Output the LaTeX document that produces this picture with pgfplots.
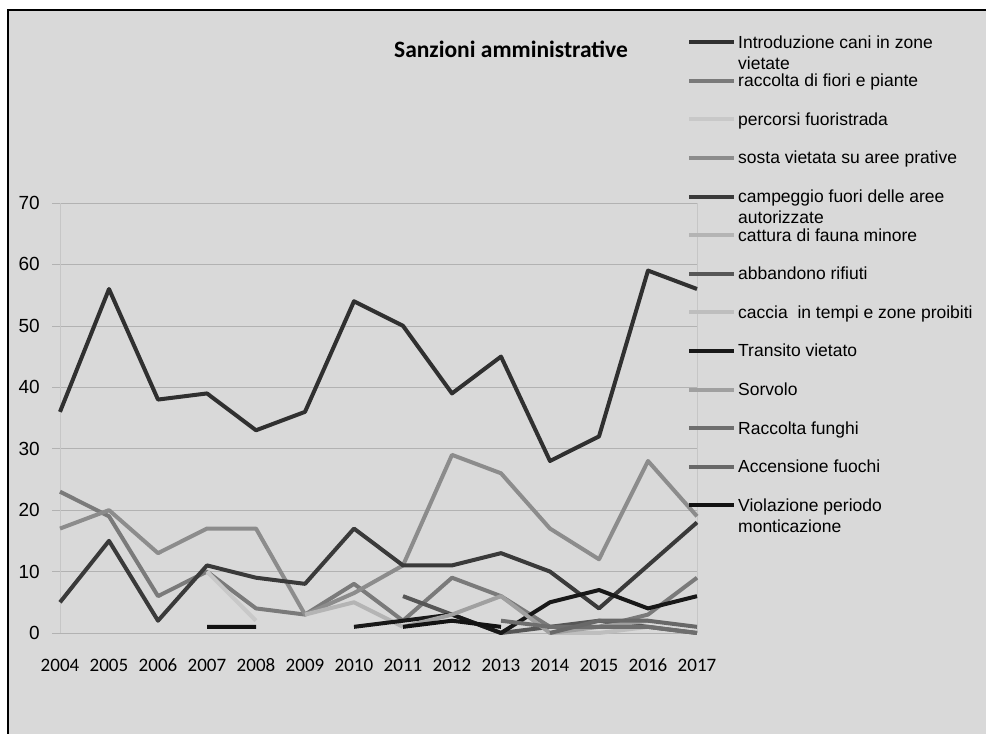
\documentclass[border=0pt]{standalone}
\usepackage{pgfplots}
\pgfplotsset{compat=1.18}
\usepackage{fontspec}
\setmainfont{Liberation Sans}
\newfontfamily\carlito{Carlito}
\definecolor{bg}{HTML}{D9D9D9}
\definecolor{cA}{HTML}{303030}
\definecolor{cB}{HTML}{7A7A7A}
\definecolor{cC}{HTML}{C8C8C8}
\definecolor{cD}{HTML}{8C8C8C}
\definecolor{cE}{HTML}{3A3A3A}
\definecolor{cF}{HTML}{B4B4B4}
\definecolor{cG}{HTML}{575757}
\definecolor{cH}{HTML}{BEBEBE}
\definecolor{cI}{HTML}{181818}
\definecolor{cJ}{HTML}{A0A0A0}
\definecolor{cK}{HTML}{6E6E6E}
\definecolor{cL}{HTML}{686868}
\definecolor{cM}{HTML}{121212}
\newcommand{\twol}[2]{\smash{\begin{tabular}[t]{@{}l@{}}#1\\#2\end{tabular}}}
\begin{document}
\begin{tikzpicture}[x=1pt,y=1pt]
\path[use as bounding box] (0,0) rectangle (986,734);
\fill[white] (0,0) rectangle (986,734);
\fill[bg] (8,0) rectangle (986,724);
\draw[black, line width=1.5pt] (8,0) -- (8,724) -- (986,724);
\node[font=\carlito\bfseries\fontsize{23.5}{27}\selectfont, anchor=base, inner sep=0pt] at (511,676.7) {Sanzioni amministrative};
\begin{axis}[
  at={(60pt,101pt)}, anchor=south west,
  scale only axis, width=637pt, height=430pt,
  xmin=2004, xmax=2017, ymin=0, ymax=70,
  xtick={2004,2005,...,2017}, ytick={0,10,...,70},
  /pgf/number format/assume math mode=true,
  /pgf/number format/1000 sep={},
  ymajorgrids, grid style={gray!60, line width=0.7pt},
  separate axis lines,
  x axis line style={draw=none},
  y axis line style={draw=gray!45, line width=0.7pt},
  xtick style={draw=none},
  ytick style={draw=gray!60, line width=0.7pt},
  ytick pos=left, tick align=outside, major tick length=8pt,
  xticklabel style={font=\carlito\fontsize{19}{21}\selectfont, anchor=base, inner sep=0pt, yshift=-30pt},
  yticklabel style={font=\fontsize{19}{21}\selectfont, anchor=east, inner sep=0pt, xshift=-12pt},
  unbounded coords=jump,
  clip=false,
  every axis plot/.append style={line width=4pt, line join=round},
  legend cell align=left,
  legend image code/.code={\draw[#1] (0pt,0pt) -- (45pt,0pt);},
  legend style={at={(axis description cs:0.9843,1.3881)}, anchor=north west,
    draw=none, fill=none, inner sep=0pt, row sep=26.8pt, column sep=2pt,
    font=\fontsize{17.5}{21}\selectfont,
    nodes={inner sep=0pt, text height=11.8pt, text depth=0pt}},
]
\addplot[cA] coordinates {(2004,36)(2005,56)(2006,38)(2007,39)(2008,33)(2009,36)(2010,54)(2011,50)(2012,39)(2013,45)(2014,28)(2015,32)(2016,59)(2017,56)};
\addlegendentry{\twol{Introduzione cani in zone}{vietate}}
\addplot[cB] coordinates {(2004,23)(2005,19)(2006,6)(2007,10)(2008,4)(2009,3)(2010,8)(2011,2)(2012,9)(2013,6)(2014,1)(2015,1)(2016,3)(2017,9)};
\addlegendentry{raccolta di fiori e piante}
\addplot[cC] coordinates {(2007,10)(2008,2)};
\addlegendentry{percorsi fuoristrada}
\addplot[cD] coordinates {(2004,17)(2005,20)(2006,13)(2007,17)(2008,17)(2009,3)(2010,6.5)(2011,11)(2012,29)(2013,26)(2014,17)(2015,12)(2016,28)(2017,19)};
\addlegendentry{sosta vietata su aree prative}
\addplot[cE] coordinates {(2004,5)(2005,15)(2006,2)(2007,11)(2008,9)(2009,8)(2010,17)(2011,11)(2012,11)(2013,13)(2014,10)(2015,4)(2016,11)(2017,18)};
\addlegendentry{\twol{campeggio fuori delle aree}{autorizzate}}
\addplot[cF] coordinates {(2009,3)(2010,5)(2011,1)};
\addlegendentry{cattura di fauna minore}
\addplot[cG] coordinates {(2011,6)(2012,3)(2013,0)(2014,1)(2015,2)(2016,1)(2017,0)};
\addlegendentry{abbandono rifiuti}
\addplot[cH] coordinates {(2014,0)(2015,0)(2016,1)};
\addlegendentry{caccia\ \ in tempi e zone proibiti}
\addplot[cI] coordinates {(2010,1)(2011,2)(2012,3)(2013,0)(2014,5)(2015,7)(2016,4)(2017,6)};
\addlegendentry{Transito vietato}
\addplot[cJ] coordinates {(2011,1)(2012,3)(2013,6)(2014,0)(2015,1)(2016,2)};
\addlegendentry{Sorvolo}
\addplot[cK] coordinates {(2013,2)(2014,1)(2015,1)(2016,1)(2017,0)};
\addlegendentry{Raccolta funghi}
\addplot[cL] coordinates {(2014,0)(2015,2)(2016,2)(2017,1)};
\addlegendentry{Accensione fuochi}
\addplot[cM] coordinates {(2007,1)(2008,1)(2009,nan)(2010,nan)(2011,1)(2012,2)(2013,1)};
\addlegendentry{\twol{Violazione periodo}{monticazione}}
\end{axis}
\end{tikzpicture}
\end{document}
